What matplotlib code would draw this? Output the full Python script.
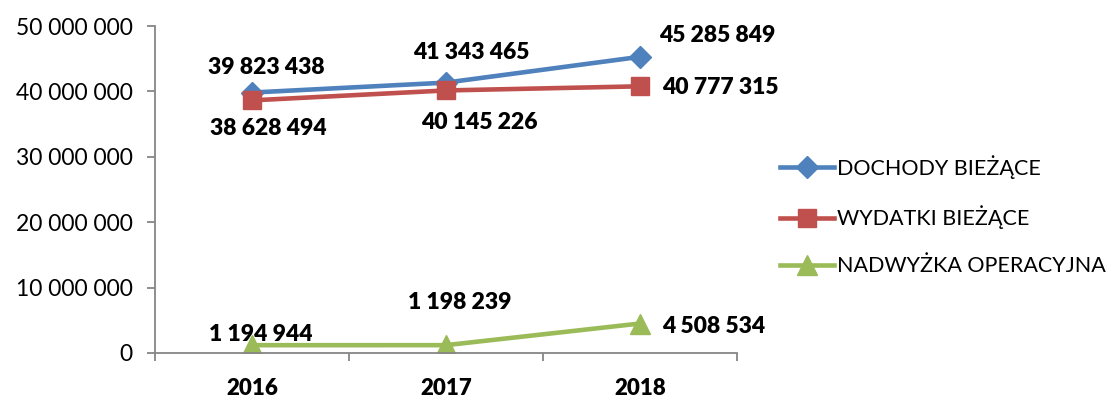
import matplotlib.pyplot as plt
from matplotlib.ticker import FuncFormatter, FixedLocator

plt.rcParams['font.family'] = ['Lato', 'DejaVu Sans']

years = ['2016', '2017', '2018']
dochody = [39823438, 41343465, 45285849]
wydatki = [38628494, 40145226, 40777315]
nadwyzka = [1194944, 1198239, 4508534]
names = ['DOCHODY BIEŻĄCE', 'WYDATKI BIEŻĄCE', 'NADWYŻKA OPERACYJNA']

def spaced(v, pos=None):
    return f'{int(v):,}'.replace(',', ' ')

fig = plt.figure(figsize=(11.16, 4.05), dpi=100)
ax = fig.add_axes([0.1389, 0.1284, 0.5215, 0.8074])

x = range(len(years))
ax.plot(x, dochody, color='#4F81BD', lw=3.3, marker='D', ms=11, label=names[0])
ax.plot(x, wydatki, color='#C0504D', lw=3.3, marker='s', ms=13, label=names[1])
ax.plot(x, nadwyzka, color='#9BBB59', lw=3.3, marker='^', ms=14, label=names[2])

# label offsets in points (dx, dy, ha)
offs_d = [(10, 18, 'center'), (18, 22, 'center'), (14, 15, 'left')]
offs_w = [(12, -20, 'center'), (24, -23, 'center'), (16, -1, 'left')]
offs_n = [(6, 8, 'center'), (10, 31, 'center'), (16, -2, 'left')]
for vals, offs in [(dochody, offs_d), (wydatki, offs_w), (nadwyzka, offs_n)]:
    for i, v in enumerate(vals):
        dx, dy, ha = offs[i]
        ax.annotate(spaced(v), (i, v), xytext=(dx, dy), textcoords='offset points',
                    ha=ha, va='center', fontsize=16.5, fontweight='heavy')

ax.set_xlim(-0.5, 2.5)
ax.set_ylim(0, 50000000)
ax.yaxis.set_major_locator(FixedLocator(range(0, 50000001, 10000000)))
ax.yaxis.set_major_formatter(FuncFormatter(spaced))
ax.set_xticks([-0.5, 0.5, 1.5, 2.5])
ax.set_xticklabels([])
ax.set_xticks(list(x), minor=True)
ax.set_xticklabels(years, minor=True, fontsize=16, fontweight='heavy')
ax.tick_params(axis='x', which='minor', length=0, pad=18)
ax.tick_params(axis='x', which='major', length=6, color='#868686', width=1.3)
ax.tick_params(axis='y', length=6, color='#868686', width=1.3, labelsize=16.5, pad=10)
for s in ['top', 'right']:
    ax.spines[s].set_visible(False)
for s in ['left', 'bottom']:
    ax.spines[s].set_color('#868686')
    ax.spines[s].set_linewidth(1.3)

fig.legend(loc='center left', bbox_to_anchor=(0.699, 0.468), frameon=False, fontsize=15.5,
           handlelength=2.5, handletextpad=0.15, labelspacing=1.25, borderaxespad=0,
           borderpad=0)

fig.savefig('out.png', dpi=100)
